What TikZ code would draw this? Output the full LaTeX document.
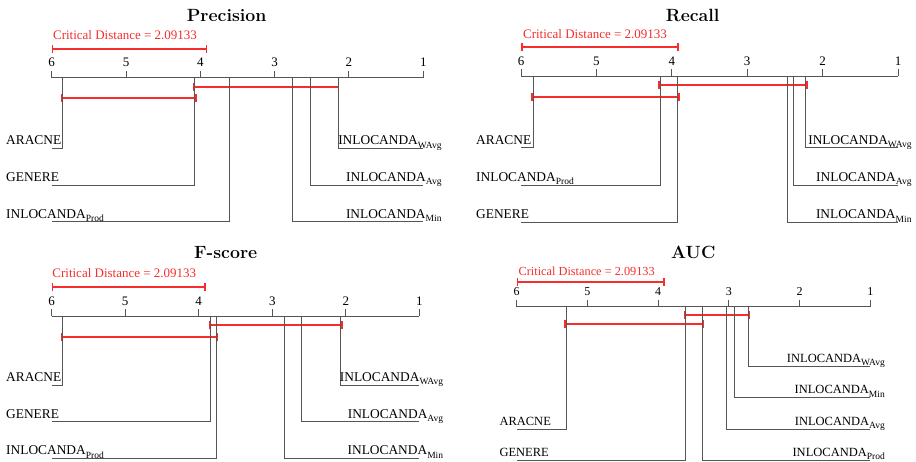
\documentclass[tikz,border=0pt]{standalone}
\usepackage{fontspec}
\newfontfamily\labfont{Liberation Serif}
\usetikzlibrary{arrows.meta}
\definecolor{axisgray}{RGB}{85,85,85}
\definecolor{cdred}{RGB}{245,45,45}
\newcommand{\lsub}[1]{\raisebox{-3.2pt}{\fontsize{9.5}{10}\selectfont #1}}
\tikzset{
  axisline/.style={draw=axisgray, line width=1pt},
  rankline/.style={draw=axisgray, line width=1pt},
  cdbar/.style={draw=cdred, line width=1.6pt, {Bar[width=8pt]}-{Bar[width=8pt]}},
  ptitle/.style={font=\bfseries\fontsize{17.7}{20}\selectfont, inner sep=0pt},
  cdtext/.style={font=\labfont\fontsize{13}{15}\selectfont, text=cdred, inner sep=0pt},
  lab/.style={font=\labfont\fontsize{13.4}{15}\selectfont, inner sep=0pt},
  laba/.style={font=\labfont\fontsize{12.5}{14}\selectfont, inner sep=0pt},
  numlab/.style={inner sep=0pt}
}
\newcommand{\cdaxis}[5]{%
  \draw[axisline] (#1,#3) -- (#2,#3);
  \foreach \k in {1,...,6}{%
    \pgfmathsetmacro{\xx}{#1+(6-\k)*(#2-#1)/5}
    \draw[axisline] (\xx,#3) -- (\xx,#3-7);
    \node[numlab, font=\labfont\fontsize{#4}{#4}\selectfont, anchor=base] (#5n\k) at (\xx,#3-11) {\k};
  }}
\begin{document}
\begin{tikzpicture}[x=1pt,y=-1pt]
\useasboundingbox (0,0) rectangle (916,461);

% ---------------- Precision ----------------
\node[ptitle] (tP) at (226.7,15) {Precision};
\node[cdtext] (cdP) at (125,35) {Critical Distance = 2.09133};
\draw[cdbar] (51.7,49) -- (207.3,49);
\cdaxis{51.7}{423.3}{77.7}{13}{P}
\draw[cdbar] (192.7,87) -- (339.3,87);
\draw[cdbar] (60.7,98) -- (196.7,98);
\draw[rankline] (62.3,77.7) |- (51.7,148.3);
\draw[rankline] (194.3,77.7) |- (51.7,185);
\draw[rankline] (229,77.7) |- (51.7,221.7);
\draw[rankline] (338,77.7) |- (423.3,148.3);
\draw[rankline] (310,77.7) |- (423.3,185);
\draw[rankline] (292,77.7) |- (423.3,221.7);
\node[lab, anchor=base west] (P1) at (6,144.8) {ARACNE};
\node[lab, anchor=base west] (P2) at (6,181.5) {GENERE};
\node[lab, anchor=base west] (P3) at (6,218.2) {INLOCANDA\lsub{Prod}};
\node[lab, anchor=base east] (P4) at (441.7,144.8) {INLOCANDA\lsub{WAvg}};
\node[lab, anchor=base east] (P5) at (441.7,181.5) {INLOCANDA\lsub{Avg}};
\node[lab, anchor=base east] (P6) at (441.7,218.2) {INLOCANDA\lsub{Min}};

% ---------------- Recall ----------------
\node[ptitle] (tR) at (692.7,15) {Recall};
\node[cdtext] (cdR) at (595,34) {Critical Distance = 2.09133};
\draw[cdbar] (521,47) -- (678.7,47);
\cdaxis{521}{898}{76}{13}{R}
\draw[cdbar] (658.3,85) -- (807.7,85);
\draw[cdbar] (531.3,97) -- (679.7,97);
\draw[rankline] (533,76) |- (521,147.7);
\draw[rankline] (660.3,76) |- (521,185);
\draw[rankline] (677.3,76) |- (521,222.3);
\draw[rankline] (805.3,76) |- (898,147.7);
\draw[rankline] (793.7,76) |- (898,185);
\draw[rankline] (787.7,76) |- (898,222.3);
\node[lab, anchor=base west] (R1) at (476,144.2) {ARACNE};
\node[lab, anchor=base west] (R2) at (476,181.5) {INLOCANDA\lsub{Prod}};
\node[lab, anchor=base west] (R3) at (476,218.8) {GENERE};
\node[lab, anchor=base east] (R4) at (911.7,144.2) {INLOCANDA\lsub{WAvg}};
\node[lab, anchor=base east] (R5) at (911.7,181.5) {INLOCANDA\lsub{Avg}};
\node[lab, anchor=base east] (R6) at (911.7,218.8) {INLOCANDA\lsub{Min}};

% ---------------- F-score ----------------
\node[ptitle] (tF) at (225.7,252.7) {F-score};
\node[cdtext] (cdF) at (124.3,273.3) {Critical Distance = 2.09133};
\draw[cdbar] (51.7,287) -- (206,287);
\cdaxis{51.7}{419.3}{316}{13}{F}
\draw[cdbar] (208.7,325) -- (342.7,325);
\draw[cdbar] (61.3,337) -- (218,337);
\draw[rankline] (62.7,316) |- (51.7,385);
\draw[rankline] (210.7,316) |- (51.7,421.7);
\draw[rankline] (216.7,316) |- (51.7,458.3);
\draw[rankline] (340.7,316) |- (419.3,385);
\draw[rankline] (301.7,316) |- (419.3,421.7);
\draw[rankline] (284,316) |- (419.3,458.3);
\node[lab, anchor=base west] (F1) at (6,381.5) {ARACNE};
\node[lab, anchor=base west] (F2) at (6,418.2) {GENERE};
\node[lab, anchor=base west] (F3) at (6,454.8) {INLOCANDA\lsub{Prod}};
\node[lab, anchor=base east] (F4) at (443.3,381.5) {INLOCANDA\lsub{WAvg}};
\node[lab, anchor=base east] (F5) at (443.3,418.2) {INLOCANDA\lsub{Avg}};
\node[lab, anchor=base east] (F6) at (443.3,454.8) {INLOCANDA\lsub{Min}};

% ---------------- AUC ----------------
\node[ptitle] (tA) at (693.3,252.7) {AUC};
\node[cdtext, font=\labfont\fontsize{12.3}{14}\selectfont] (cdA) at (586.7,271.3) {Critical Distance = 2.09133};
\draw[cdbar] (516.7,282) -- (665,282);
\cdaxis{516.7}{870.3}{306.7}{12}{A}
\draw[cdbar] (683.7,315) -- (750,315);
\draw[cdbar] (564.3,324) -- (704,324);
\draw[rankline] (566,306.7) |- (516.7,429);
\draw[rankline] (685.3,306.7) |- (516.7,460);
\draw[rankline] (748.7,306.7) |- (870.3,366);
\draw[rankline] (734.3,306.7) |- (870.3,397.3);
\draw[rankline] (726.3,306.7) |- (870.3,429);
\draw[rankline] (702,306.7) |- (870.3,460);
\node[laba, anchor=base west] (A1) at (499.3,425.5) {ARACNE};
\node[laba, anchor=base west] (A2) at (499.3,456.5) {GENERE};
\node[laba, anchor=base east] (A3) at (885,362.5) {INLOCANDA\lsub{WAvg}};
\node[laba, anchor=base east] (A4) at (885,393.8) {INLOCANDA\lsub{Min}};
\node[laba, anchor=base east] (A5) at (885,425.5) {INLOCANDA\lsub{Avg}};
\node[laba, anchor=base east] (A6) at (885,456.5) {INLOCANDA\lsub{Prod}};
\end{tikzpicture}
\end{document}
